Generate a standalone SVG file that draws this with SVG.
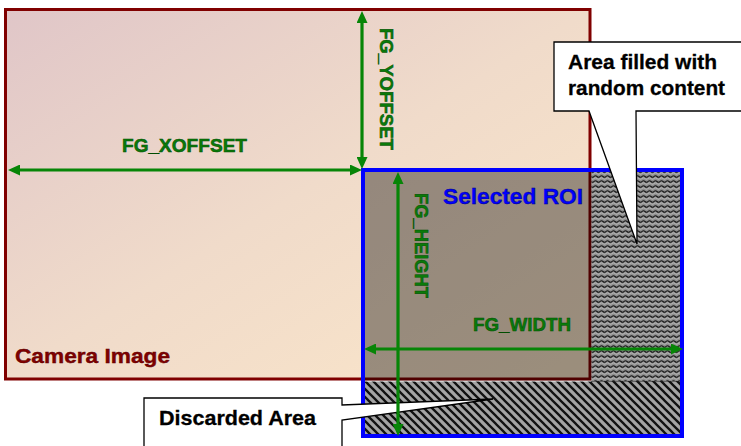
<svg xmlns="http://www.w3.org/2000/svg" width="741" height="446" viewBox="0 0 741 446">
  <style>
    .lbl { font-family: "Liberation Sans", Arial, sans-serif; font-weight: bold; }
    .green { fill: #0a7a0a; stroke: #004d00; stroke-width: 0.5; font-size: 19px; }
    .call { fill: #000; stroke: #000; stroke-width: 0.3; font-size: 21px; }
    .arrow { stroke: #078507; stroke-width: 3.2; fill: none; marker-start: url(#ah); marker-end: url(#ah); }
    .callout { fill: #fff; stroke: #000; stroke-width: 1.3; }
  </style>
  <defs>
    <linearGradient id="camgrad" x1="0" y1="0" x2="1" y2="1">
      <stop offset="0" stop-color="#e0c6c8"/>
      <stop offset="0.5" stop-color="#f0dbca"/>
      <stop offset="1" stop-color="#fbe6c9"/>
    </linearGradient>
    <pattern id="diag" patternUnits="userSpaceOnUse" width="8" height="8">
      <rect width="8" height="8" fill="#a4a4a4"/>
      <path d="M-2,-2 L10,10 M-2,6 L2,10 M6,-2 L10,2" stroke="#111" stroke-width="2.3"/>
    </pattern>
    <pattern id="wavy" patternUnits="userSpaceOnUse" width="6" height="5">
      <rect width="6" height="5" fill="#8e8e8e"/>
      <path d="M0,1.5 Q1.5,0 3,1.5 T6,1.5" stroke="#151515" stroke-width="1.1" fill="none"/>
      <path d="M0,3.6 Q1.5,2.1 3,3.6 T6,3.6" stroke="#bdbdbd" stroke-width="0.8" fill="none"/>
    </pattern>
    <marker id="ah" markerUnits="userSpaceOnUse" viewBox="0 0 12 11" markerWidth="12" markerHeight="11" refX="6" refY="5.5" orient="auto-start-reverse">
      <path d="M0,0 L12,5.5 L0,11 Z" fill="#078507"/>
    </marker>
  </defs>

  <g id="camera-image">
    <rect x="5.5" y="9.5" width="584.5" height="369.5" fill="url(#camgrad)" stroke="#800000" stroke-width="3"/>
    <text class="lbl" x="15" y="363" font-size="21" fill="#800000" stroke="#5a0000" stroke-width="0.4" textLength="155" lengthAdjust="spacingAndGlyphs">Camera Image</text>
  </g>

  <g id="random-area">
    <rect x="591.5" y="170" width="90.5" height="211.5" fill="url(#wavy)"/>
    <line x1="591" y1="381.5" x2="682" y2="381.5" stroke="#222" stroke-width="1"/>
  </g>

  <g id="discarded-area">
    <rect x="363" y="381.5" width="319" height="54.5" fill="url(#diag)"/>
  </g>

  <g id="selected-roi">
    <rect x="363" y="170" width="228.5" height="210.5" fill="#000" fill-opacity="0.38"/>
    <rect x="363" y="170" width="319" height="266" fill="none" stroke="#0000ff" stroke-width="4"/>
    <text class="lbl" x="443" y="204" font-size="22" fill="#0000ff" stroke="#00007a" stroke-width="0.4" textLength="140" lengthAdjust="spacingAndGlyphs">Selected ROI</text>
  </g>

  <g id="callout-random">
    <path class="callout" d="M554,42 L745,42 L745,111 L636,111 L637,244 L589,111 L554,111 Z"/>
    <text class="lbl call" x="568" y="69" textLength="149" lengthAdjust="spacingAndGlyphs">Area filled with</text>
    <text class="lbl call" x="568" y="95" textLength="157" lengthAdjust="spacingAndGlyphs">random content</text>
  </g>

  <g id="callout-discarded">
    <path class="callout" d="M144,398 L342,398 L342,405 L493,399 L342,420 L342,452 L144,452 Z"/>
    <text class="lbl call" x="159" y="425" textLength="157" lengthAdjust="spacingAndGlyphs">Discarded Area</text>
  </g>

  <g id="connectors">
    <line class="arrow" x1="14" y1="170" x2="356" y2="170"/>
    <line class="arrow" x1="362" y1="17" x2="362" y2="163"/>
    <line class="arrow" x1="398" y1="178" x2="398" y2="430"/>
    <line class="arrow" x1="370" y1="349" x2="677" y2="349"/>
  </g>

  <g id="dimension-labels">
    <text class="lbl green" x="122" y="152" textLength="125" lengthAdjust="spacingAndGlyphs">FG_XOFFSET</text>
    <text class="lbl green" transform="translate(380,28) rotate(90)" textLength="122" lengthAdjust="spacingAndGlyphs">FG_YOFFSET</text>
    <text class="lbl green" transform="translate(415,193) rotate(90)" textLength="105" lengthAdjust="spacingAndGlyphs">FG_HEIGHT</text>
    <text class="lbl green" x="473" y="331" textLength="98" lengthAdjust="spacingAndGlyphs">FG_WIDTH</text>
  </g>
</svg>
